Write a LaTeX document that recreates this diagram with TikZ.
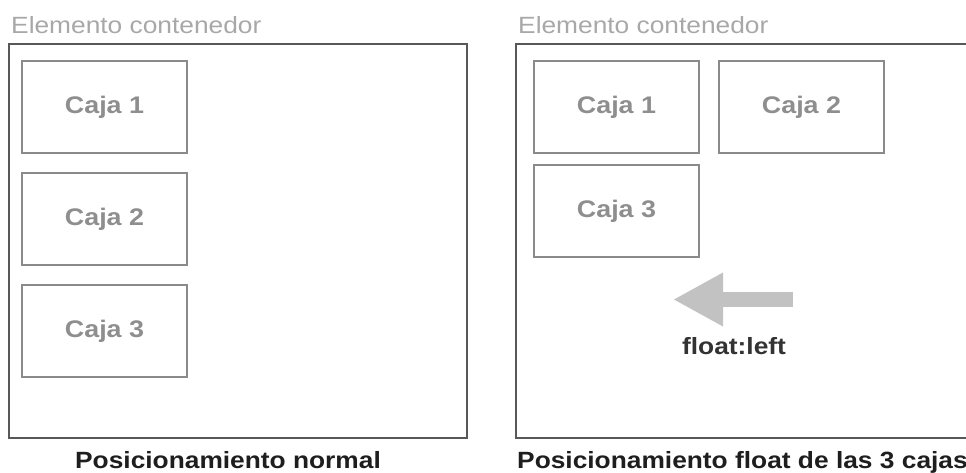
\documentclass[tikz,border=0pt]{standalone}
\usepackage{fontspec}
\setmainfont{Liberation Sans}[FakeStretch=1.12]
\usepackage{xcolor}
\usetikzlibrary{arrows.meta,positioning}
\definecolor{framegray}{HTML}{585858}
\definecolor{boxgray}{HTML}{8A8A8A}
\definecolor{boxtext}{HTML}{8E8E8E}
\definecolor{titlegray}{HTML}{A8A8A8}
\definecolor{arrowgray}{HTML}{C2C2C2}
\definecolor{labeldark}{HTML}{1E1E1E}

\begin{document}
\begin{tikzpicture}[x=1pt,y=-1pt,>=Latex]
\tikzstyle{container}=[draw=framegray, line width=2pt, minimum width=458pt, minimum height=394pt, inner sep=0pt, anchor=north west]
\tikzstyle{caja}=[draw=boxgray, line width=2pt, minimum width=165pt, minimum height=92pt, inner sep=0pt, anchor=north west, text=boxtext, font=\bfseries\fontsize{24}{28}\selectfont]
\tikzstyle{titulo}=[inner sep=0pt, anchor=base west, text=titlegray, font=\fontsize{23.5}{28}\selectfont]
\tikzstyle{pie}=[inner sep=0pt, text=labeldark, font=\bfseries\fontsize{23.5}{28}\selectfont]
\useasboundingbox (0,0) rectangle (966,472);
% posicionamiento normal
\node[titulo] (tituloA) at (11,33) {Elemento contenedor};
\node[container] (contA) at (8,43) {};
\node[caja] (cajaA1) at (21,60) {Caja 1};
\node[caja, below=18pt of cajaA1] (cajaA2) {Caja 2};
\node[caja, below=18pt of cajaA2] (cajaA3) {Caja 3};
\node[pie, anchor=base] (pieA) at (228,468) {Posicionamiento normal};
% posicionamiento float
\node[titulo] (tituloB) at (518,33) {Elemento contenedor};
\node[container, minimum width=480pt] (contB) at (515,43) {};
\node[caja] (cajaB1) at (533,60) {Caja 1};
\node[caja, right=18pt of cajaB1] (cajaB2) {Caja 2};
\node[caja, below=10pt of cajaB1] (cajaB3) {Caja 3};
\coordinate (flechaini) at (793,299.5);
\coordinate (flechafin) at (673,299.5);
\draw[arrowgray, line width=15pt, -{Triangle[length=50pt, width=50pt]}] (flechaini) -- (flechafin);
\node[pie, anchor=base, text=black!80] (floatleft) at (734,354) {float:left};
\node[pie, anchor=base west] (pieB) at (517,468) {Posicionamiento float de las 3 cajas};
\end{tikzpicture}
\end{document}
